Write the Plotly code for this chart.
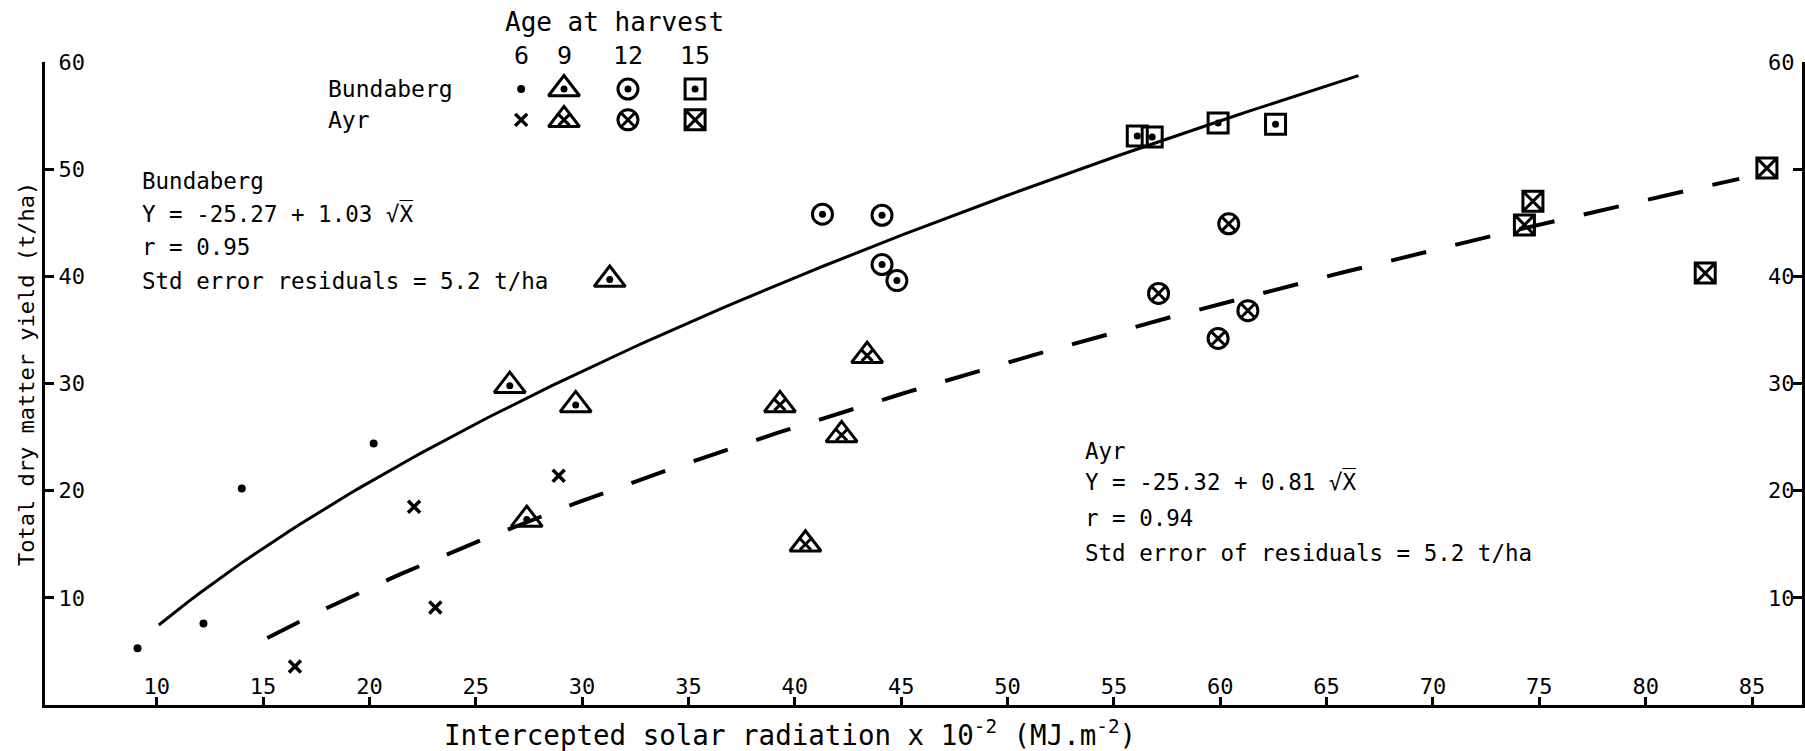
import numpy as np
import plotly.graph_objects as go

# ---- observations: intercepted solar radiation (x 10^-2 MJ/m^2) vs total dry matter (t/ha)
bund_6_x = [9.1, 12.2, 14.0, 20.2]
bund_6_y = [5.3, 7.6, 20.2, 24.4]
ayr_6_x = [16.5, 22.1, 23.1, 28.9]
ayr_6_y = [3.6, 18.5, 9.1, 21.4]

bund_9_x = [26.6, 27.4, 29.7, 31.3]
bund_9_y = [29.8, 17.3, 28.0, 39.7]
ayr_9_x = [39.3, 40.5, 42.2, 43.4]
ayr_9_y = [28.0, 15.0, 25.2, 32.6]

bund_12_x = [41.3, 44.1, 44.1, 44.8]
bund_12_y = [45.8, 45.7, 41.1, 39.6]
ayr_12_x = [57.1, 59.9, 60.4, 61.3]
ayr_12_y = [38.4, 34.2, 44.9, 36.8]

bund_15_x = [56.1, 56.8, 59.9, 62.6]
bund_15_y = [53.1, 53.0, 54.3, 54.2]
ayr_15_x = [74.3, 74.7, 82.8, 85.7]
ayr_15_y = [44.8, 47.0, 40.3, 50.1]

# ---- fitted regressions  Y = a + b * sqrt(X),  X in MJ/m^2
bund_a, bund_b = -25.27, 1.03
ayr_a, ayr_b = -25.32, 0.81
bund_fit_span = [10.1, 66.5]
ayr_fit_span = [15.2, 84.4]

x_ticks = [10, 15, 20, 25, 30, 35, 40, 45, 50, 55, 60, 65, 70, 75, 80, 85]
y_ticks = [10, 20, 30, 40, 50, 60]
y_ticks_right_text = ["10", "20", "30", "40", "", "60"]
ages = [6, 9, 12, 15]
sites = ["Bundaberg", "Ayr"]

FONT = "DejaVu Sans Mono"
INK = "black"

# marker layers per (site, age): (symbol, size, line width)
STYLE = {
    ("Bundaberg", 6): [("circle", 8, 0)],
    ("Ayr", 6): [("x-thin-open", 12, 3.5)],
    ("Bundaberg", 9): [("triangle-up-open", 27, 3), ("circle", 7, 0)],
    ("Ayr", 9): [("triangle-up-open", 27, 3), ("x-thin-open", 11, 3)],
    ("Bundaberg", 12): [("circle-open", 20, 3), ("circle", 7, 0)],
    ("Ayr", 12): [("circle-x-open", 20, 3)],
    ("Bundaberg", 15): [("square-open", 20, 3), ("circle", 7, 0)],
    ("Ayr", 15): [("square-x-open", 20, 3)],
}

DATA = {
    ("Bundaberg", 6): (bund_6_x, bund_6_y),
    ("Ayr", 6): (ayr_6_x, ayr_6_y),
    ("Bundaberg", 9): (bund_9_x, bund_9_y),
    ("Ayr", 9): (ayr_9_x, ayr_9_y),
    ("Bundaberg", 12): (bund_12_x, bund_12_y),
    ("Ayr", 12): (ayr_12_x, ayr_12_y),
    ("Bundaberg", 15): (bund_15_x, bund_15_y),
    ("Ayr", 15): (ayr_15_x, ayr_15_y),
}


def layers(x, y, key, xaxis="x", yaxis="y"):
    out = []
    for symbol, size, lw in STYLE[key]:
        out.append(go.Scatter(
            x=x, y=y, mode="markers", xaxis=xaxis, yaxis=yaxis,
            cliponaxis=False, showlegend=False, hoverinfo="skip",
            marker=dict(symbol=symbol, size=size, color=INK,
                        line=dict(color=INK, width=lw)),
        ))
    return out


fig = go.Figure()

# regression curves
bx = np.linspace(bund_fit_span[0], bund_fit_span[1], 120)
ax_ = np.linspace(ayr_fit_span[0], ayr_fit_span[1], 120)
fig.add_trace(go.Scatter(x=bx, y=bund_a + bund_b * np.sqrt(bx * 100), mode="lines",
                         line=dict(color=INK, width=3), showlegend=False, hoverinfo="skip"))
fig.add_trace(go.Scatter(x=ax_, y=ayr_a + ayr_b * np.sqrt(ax_ * 100), mode="lines",
                         line=dict(color=INK, width=4, dash="36px,30px"),
                         showlegend=False, hoverinfo="skip"))

# observations
for key, (x, y) in DATA.items():
    for tr in layers(x, y, key):
        fig.add_trace(tr)

# key: grid of symbols drawn on an overlay axis spanning the plot area (0..1)
key_cols = [0.2710, 0.2954, 0.3318, 0.3700]
key_rows = [0.958, 0.910]
for r, site in enumerate(sites):
    for c, age in enumerate(ages):
        for tr in layers([key_cols[c]], [key_rows[r]], (site, age), "x3", "y3"):
            fig.add_trace(tr)

annotations = []


def text(x, y, s, size=22.5, xanchor="left", **kw):
    annotations.append(dict(x=x, y=y, xref="paper", yref="paper", text=s,
                            showarrow=False, xanchor=xanchor, yanchor="middle",
                            font=dict(family=FONT, size=size, color=INK), **kw))


text(0.2607, 1.062, "Age at harvest", size=26)
for c, age in enumerate(ages):
    text(key_cols[c], 1.0095, str(age), size=25, xanchor="center")
for r, site in enumerate(sites):
    text(0.1600, key_rows[r], site, size=23)

bund_lines = ["Bundaberg",
              f"Y = {bund_a:.2f} + {bund_b:.2f} √X\u0305",
              "r = 0.95",
              "Std error residuals = 5.2 t/ha"]
for s, yy in zip(bund_lines, [0.815, 0.765, 0.712, 0.659]):
    text(0.054, yy, s)

ayr_lines = ["Ayr",
             f"Y = {ayr_a:.2f} + {ayr_b:.2f} √X\u0305",
             "r = 0.94",
             "Std error of residuals = 5.2 t/ha"]
for s, yy in zip(ayr_lines, [0.395, 0.347, 0.291, 0.236]):
    text(0.5908, yy, s)

text(-0.0102, 0.515, "Total dry matter yield (t/ha)", size=22, xanchor="center", textangle=-90)
text(0.424, -0.0435, "Intercepted solar radiation x 10<sup>-2</sup> (MJ.m<sup>-2</sup>)",
     size=27.5, xanchor="center")

axis_common = dict(showline=True, linecolor=INK, linewidth=3, showgrid=False, zeroline=False,
                   ticks="inside", tickcolor=INK, tickwidth=2.5, ticklabelposition="inside",
                   ticklabeloverflow="allow",
                   tickfont=dict(family=FONT, size=22, color=INK), fixedrange=True)

fig.update_layout(
    width=1805, height=751,
    margin=dict(l=45, r=3, t=62, b=46),
    paper_bgcolor="white", plot_bgcolor="white",
    showlegend=False,
    annotations=annotations,
    xaxis=dict(range=[4.75, 87.35], tickvals=x_ticks, ticklen=8, **axis_common),
    yaxis=dict(range=[0, 60], tickvals=y_ticks, ticklen=9, ticklabelstandoff=6, **axis_common),
    yaxis2=dict(range=[0, 60], tickvals=y_ticks, ticktext=y_ticks_right_text, ticklen=9,
                overlaying="y", side="right", anchor="x", **axis_common),
    xaxis3=dict(range=[0, 1], overlaying="x", visible=False, fixedrange=True),
    yaxis3=dict(range=[0, 1], overlaying="y", visible=False, fixedrange=True),
)

# keep the right-hand axis drawn by attaching an invisible trace to it
fig.add_trace(go.Scatter(x=[None], y=[None], yaxis="y2", showlegend=False, hoverinfo="skip"))

fig.write_html("out.html")
